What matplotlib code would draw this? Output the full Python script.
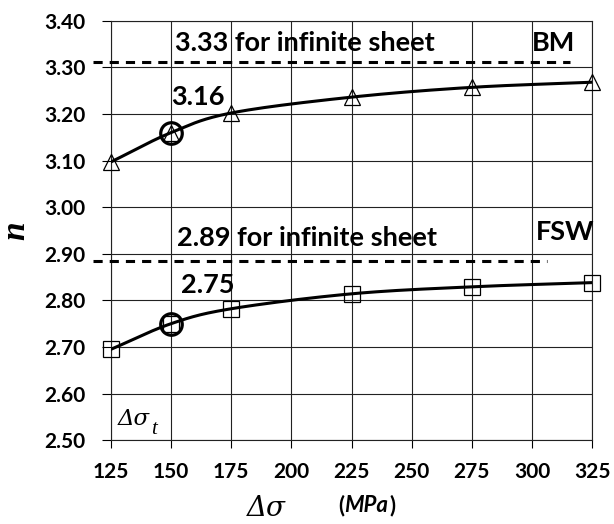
import numpy as np
import matplotlib
matplotlib.use("Agg")
import matplotlib.pyplot as plt

# ---- data ----
stress = [125, 150, 175, 225, 275, 325]
n_bm = [3.097, 3.160, 3.202, 3.236, 3.257, 3.268]
n_fsw = [2.695, 2.750, 2.782, 2.814, 2.829, 2.838]
threshold_x = [150]
threshold_bm = [3.16]
threshold_fsw = [2.75]
inf_bm = 3.311
inf_fsw = 2.884
inf_bm_span = [117.5, 315.8]
inf_fsw_span = [117.5, 306.3]
xticks = [125, 150, 175, 200, 225, 250, 275, 300, 325]
yticks = [2.50, 2.60, 2.70, 2.80, 2.90, 3.00, 3.10, 3.20, 3.30, 3.40]

SANS = "Lato"
SERIF = "Liberation Serif"
GREEK = "DejaVu Serif"


def smooth(xs, ys, k=30):
    """Bezier-smoothed line through the data points (spreadsheet style)."""
    xs = np.asarray(xs, float)
    ys = np.asarray(ys, float)
    px = np.concatenate([[2 * xs[0] - xs[1]], xs, [2 * xs[-1] - xs[-2]]])
    py = np.concatenate([[2 * ys[0] - ys[1]], ys, [2 * ys[-1] - ys[-2]]])
    outx, outy = [], []
    t = np.linspace(0, 1, k)
    for i in range(1, len(px) - 2):
        p0, p1, p2, p3 = [np.array([px[j], py[j]]) for j in (i - 1, i, i + 1, i + 2)]
        c1 = p1 + (p2 - p0) / 6.0
        c2 = p2 - (p3 - p1) / 6.0
        b = ((1 - t) ** 3)[:, None] * p1 + (3 * (1 - t) ** 2 * t)[:, None] * c1 \
            + (3 * (1 - t) * t ** 2)[:, None] * c2 + (t ** 3)[:, None] * p2
        outx.extend(b[:, 0])
        outy.extend(b[:, 1])
    return np.array(outx), np.array(outy)


fig = plt.figure(figsize=(6.14, 5.24), dpi=100)
ax = fig.add_axes([0.1808, 0.160, 0.7834, 0.8005])

ax.set_xlim(125, 325)
ax.set_ylim(2.50, 3.40)
ax.set_xticks(xticks)
ax.set_yticks(yticks)
ax.set_xticklabels([str(v) for v in xticks], fontfamily=SANS, fontweight="bold", fontsize=15)
ax.set_yticklabels([f"{v:.2f}" for v in yticks], fontfamily=SANS, fontweight="bold", fontsize=15)
ax.tick_params(axis="x", direction="out", length=6, width=0.8, pad=10)
ax.tick_params(axis="y", direction="out", length=6.5, width=0.8, pad=12)
ax.grid(True, color="#222222", linewidth=0.8)
ax.set_axisbelow(True)
for s in ax.spines.values():
    s.set_linewidth(0.8)
    s.set_color("#222222")

# smoothed curves
sx, sy = smooth(stress, n_bm)
ax.plot(sx, sy, color="black", lw=2.2, zorder=3)
sx, sy = smooth(stress, n_fsw)
ax.plot(sx, sy, color="black", lw=2.2, zorder=3)

# markers
ax.plot(stress, n_bm, linestyle="none", marker="^", ms=12, mfc="none", mec="black", mew=0.9,
        zorder=4, clip_on=False)
ax.plot(stress, n_fsw, linestyle="none", marker="s", ms=11.5, mfc="none", mec="black", mew=0.9,
        zorder=4, clip_on=False)
ax.plot(threshold_x, threshold_bm, linestyle="none", marker="o", ms=15.5, mfc="none", mec="black",
        mew=2.3, zorder=5)
ax.plot(threshold_x, threshold_fsw, linestyle="none", marker="o", ms=15.5, mfc="none", mec="black",
        mew=2.3, zorder=5)

# infinite-sheet dashed lines
ax.plot(inf_bm_span, [inf_bm, inf_bm], color="black", lw=2.2, dashes=(3, 2.3), clip_on=False, zorder=3)
ax.plot(inf_fsw_span, [inf_fsw, inf_fsw], color="black", lw=2.2, dashes=(3, 2.3), clip_on=False, zorder=3)

# annotations
tk = dict(fontfamily=SANS, fontweight="bold", fontsize=19.5, va="center", ha="left")
ax.text(151.5, 3.353, f"{3.33:.2f} for infinite sheet", **tk)
ax.text(300.0, 3.353, "BM", **tk)
ax.text(150.0, 3.236, f"{threshold_bm[0]:.2f}", **tk)
ax.text(152.5, 2.934, f"{2.89:.2f} for infinite sheet", **tk)
ax.text(301.5, 2.947, "FSW", **tk)
ax.text(154.0, 2.833, f"{threshold_fsw[0]:.2f}", **tk)

# delta sigma_t label
t1 = ax.text(127.6, 2.546, "\u0394\u03c3", fontfamily=GREEK, fontstyle="italic", fontsize=16.5,
             va="center", ha="left")
ax.annotate("t", xy=(1, 0), xycoords=t1, xytext=(1, -3), textcoords="offset points",
            fontfamily=SERIF, fontstyle="italic", fontsize=15, ha="left", va="baseline")

# axis labels
fig.text(16 / 614, 1 - 231 / 524, "n", fontfamily=SERIF, fontstyle="italic", fontweight="bold",
         fontsize=24, rotation=90, ha="center", va="center")
fig.text(266 / 614, 1 - 509 / 524, "\u0394\u03c3", fontfamily=GREEK, fontstyle="italic",
         fontsize=20, ha="center", va="center")
p1 = fig.text(338 / 614, 1 - 506 / 524, "(", fontfamily=SANS, fontweight="bold", fontsize=16,
              ha="left", va="center")
p2 = fig.text(0, 0, "MPa", fontfamily=SANS, fontweight="bold", fontstyle="italic", fontsize=16,
              ha="left", va="center")
p3 = fig.text(0, 0, ")", fontfamily=SANS, fontweight="bold", fontsize=16, ha="left", va="center")
fig.canvas.draw()
r = fig.canvas.get_renderer()
inv = fig.transFigure.inverted()
b1 = p1.get_window_extent(r)
p2.set_position(inv.transform((b1.x1 + 0.5, b1.y0 + b1.height / 2)))
b2 = p2.get_window_extent(r)
p3.set_position(inv.transform((b2.x1 + 1.0, b1.y0 + b1.height / 2)))

fig.savefig("out.png", dpi=100)
